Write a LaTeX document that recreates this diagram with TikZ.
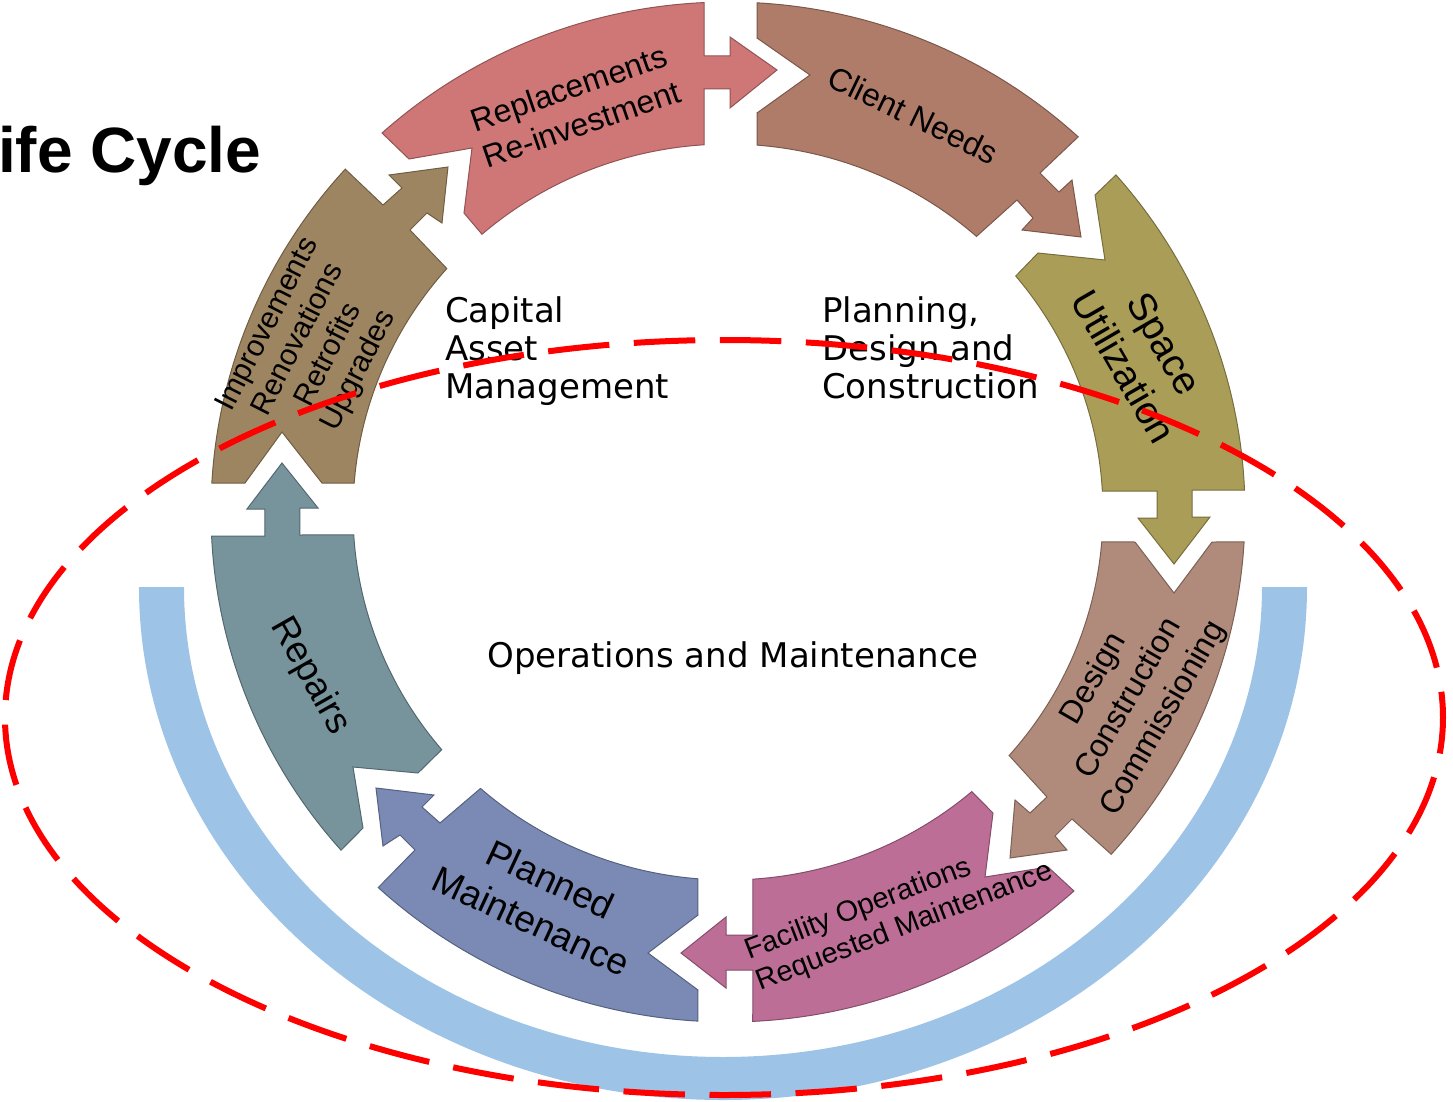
\documentclass[tikz,border=0pt]{standalone}
\usepackage{fontspec}
\setmainfont{Liberation Sans}
\newfontfamily\dejavu{DejaVu Sans}
\definecolor{cRepl}{HTML}{CF7776}
\definecolor{cClient}{HTML}{B07C6A}
\definecolor{cSpace}{HTML}{A99D58}
\definecolor{cDesign}{HTML}{B08A7A}
\definecolor{cFacil}{HTML}{BD6E97}
\definecolor{cPlanned}{HTML}{7A8AB4}
\definecolor{cRepairs}{HTML}{77949D}
\definecolor{cImprov}{HTML}{9E8561}
\definecolor{cBlue}{HTML}{9DC3E6}
\begin{document}
\begin{tikzpicture}[x=1pt,y=1pt,
  seg/.style={fill=#1, draw=#1!70!black, line width=1pt, line join=miter},
  shapetext/.style={align=center, inner sep=0pt, text=black},
  midtext/.style={anchor=base west, inner sep=0pt, font=\dejavu\fontsize{34}{38}\selectfont},
  dashring/.style={draw=red, line width=6pt, dash pattern=on 61.5pt off 24.57pt, dash phase=35.7pt}]
\useasboundingbox (-728,512) rectangle (725,-589);

% light blue band
\begin{scope}[shift={(-5,-75)}]
\fill[cBlue] (-584,0) arc[start angle=180,end angle=360,x radius=584,y radius=513]
  -- (539,0) arc[start angle=0,end angle=-180,x radius=539,y radius=470] -- cycle;
\end{scope}

% Replacements
\path[seg=cRepl] (132:517 and 510) -- (-319,353) -- (-256,364) -- (-264,299) -- (131:375 and 368)
  arc[start angle=131,end angle=93.67,x radius=375,y radius=368]
  -- (-24,423) -- (2,423) -- (2,404) -- (49,442) -- (2,475) -- (2,456) -- (-24,456)
  -- (92.66:517 and 510) arc[start angle=92.66,end angle=132,x radius=517,y radius=510] -- cycle;
% Client Needs
\path[seg=cClient] (86.76:517 and 510) -- (29,474) -- (82,437) -- (29,399) -- (85.54:375 and 368)
  arc[start angle=85.54,end angle=48.5,x radius=375,y radius=368]
  -- (289,312) -- (305,294) -- (294,282) -- (353,275) -- (344,332) -- (331,320) -- (312,339)
  -- (47.36:517 and 510) arc[start angle=47.36,end angle=86.76,x radius=517,y radius=510] -- cycle;
% Space Utilization
\path[seg=cSpace] (41.37:517 and 510) arc[start angle=41.37,end angle=2.46,x radius=517,y radius=510]
  -- (464,22) -- (464,-5) -- (482,-5) -- (446,-52) -- (410,-6) -- (429,-6) -- (429,21)
  -- (3.25:375 and 368) arc[start angle=3.25,end angle=39.88,x radius=375,y radius=368]
  -- (310,259) -- (377,252) -- (367,317) -- cycle;
% Design
\path[seg=cDesign] (-4.66:375 and 368) -- (407,-30) -- (446,-81) -- (484,-30) -- (-3.37:517 and 510)
  arc[start angle=-3.37,end angle=-42.16,x radius=517,y radius=510]
  -- (344,-307) -- (327,-324) -- (339,-338) -- (282,-346) -- (287,-288) -- (302,-301) -- (319,-285)
  -- (-41.43:375 and 368) arc[start angle=-41.43,end angle=-4.66,x radius=375,y radius=368] -- cycle;
% Facility Operations
\path[seg=cFacil] (-49.45:375 and 368) -- (265,-301) -- (257,-365) -- (320,-355) -- (-48:517 and 510)
  arc[start angle=-48,end angle=-87.26,x radius=517,y radius=510]
  -- (25,-458) -- (-2,-458) -- (-2,-476) -- (-47,-441) -- (-2,-405) -- (-2,-423) -- (25,-423)
  -- (-86.2:375 and 368) arc[start angle=-86.2,end angle=-49.45,x radius=375,y radius=368] -- cycle;
% Planned Maintenance
\path[seg=cPlanned] (265.4:375 and 368) -- (-30,-403) -- (-80,-441) -- (-30,-478) -- (266.65:517 and 510)
  arc[start angle=266.65,end angle=227.43,x radius=517,y radius=510]
  -- (-313,-338) -- (-328,-323) -- (-345,-334) -- (-352,-276) -- (-294,-283) -- (-306,-295) -- (-288,-311)
  -- (228.7:375 and 368) arc[start angle=228.7,end angle=265.4,x radius=375,y radius=368] -- cycle;
% Repairs
\path[seg=cRepairs] (182.7:517 and 510) -- (-463,-24) -- (-463,3) -- (-481,3) -- (-446,49) -- (-410,4) -- (-428,4) -- (-428,-23)
  -- (183.57:375 and 368) arc[start angle=183.57,end angle=220.23,x radius=375,y radius=368]
  -- (-310,-261) -- (-375,-255) -- (-365,-316)
  -- (221.54:517 and 510) arc[start angle=221.54,end angle=182.7,x radius=517,y radius=510] -- cycle;
% Improvements
\path[seg=cImprov] (176.75:517 and 510) -- (-483,29) -- (-446,80) -- (-406,29)
  -- (175.48:375 and 368) arc[start angle=175.48,end angle=138.58,x radius=375,y radius=368]
  -- (-318,282) -- (-301,299) -- (-286,289) -- (-280,345) -- (-339,337) -- (-326,324) -- (-345,307)
  -- (137.76:517 and 510) arc[start angle=137.76,end angle=176.75,x radius=517,y radius=510] -- cycle;

% segment labels
\node[shapetext, rotate=19, font=\fontsize{32}{38}\selectfont] (tRepl) at (-153,406) {Replacements\\Re-investment};
\node[shapetext, rotate=-25.7, font=\fontsize{32}{38}\selectfont] (tClient) at (185,397) {Client Needs};
\node[shapetext, rotate=-60, font=\fontsize{39}{47}\selectfont] (tSpace) at (416,157) {Space\\Utilization};
\node[shapetext, rotate=60, font=\fontsize{32}{40}\selectfont] (tDesign) at (401,-187) {Design\\Construction\\Commissioning};
\node[shapetext, align=left, rotate=21, font=\fontsize{29}{33}\selectfont] (tFacil) at (171,-400) {Facility Operations\\Requested Maintenance};
\node[shapetext, rotate=-25, font=\fontsize{37}{46}\selectfont] (tPlanned) at (-187,-388) {Planned\\Maintenance};
\node[shapetext, rotate=-60.5, font=\fontsize{37}{44}\selectfont] (tRepairs) at (-418,-164) {Repairs};
\node[shapetext, rotate=63, font=\fontsize{30}{34}\selectfont] (tImprov) at (-414,164) {Improvements\\Renovations\\Retrofits\\Upgrades};

% central labels
\node[midtext] (cam1) at (-283,190) {Capital};
\node[midtext] (cam2) at (-283,152) {Asset};
\node[midtext] (cam3) at (-283,114) {Management};
\node[midtext] (pdc1) at (94,190) {Planning,};
\node[midtext] (pdc2) at (94,152) {Design and};
\node[midtext] (pdc3) at (94,114) {Construction};
\node[midtext, anchor=base] (ops) at (5,-155) {Operations and Maintenance};

% title
\node[anchor=base west, inner sep=0pt, font=\fontsize{64}{70}\selectfont\bfseries] (title) at (-730,339) {ife Cycle};

% red dashed ellipse
\path[dashring] (-4,-205.5) ellipse[x radius=719, y radius=377.5];
\end{tikzpicture}
\end{document}
